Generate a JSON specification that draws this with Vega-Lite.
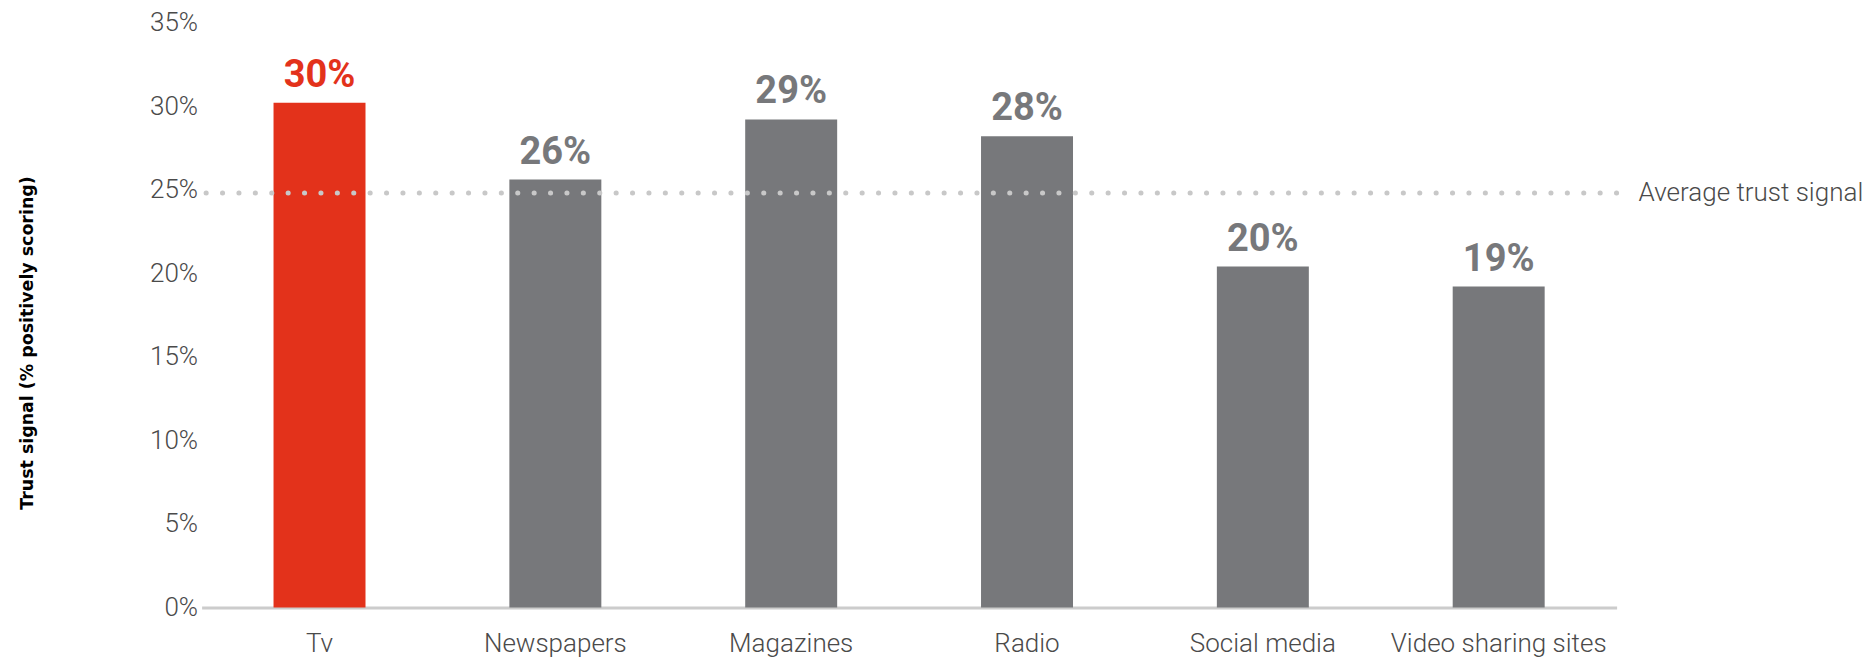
{
  "$schema": "https://vega.github.io/schema/vega-lite/v6.json",
  "width": 1415,
  "height": 585,
  "autosize": {"type": "none"},
  "padding": {"left": 201.6, "top": 22.5, "right": 259.4, "bottom": 49.5},
  "background": "white",
  "config": {"view": {"stroke": null}, "font": "Roboto"},
  "datasets": {
    "media": [
      {"category": "Tv", "value": 30.2, "label": "30%"},
      {"category": "Newspapers", "value": 25.6, "label": "26%"},
      {"category": "Magazines", "value": 29.2, "label": "29%"},
      {"category": "Radio", "value": 28.2, "label": "28%"},
      {"category": "Social media", "value": 20.4, "label": "20%"},
      {"category": "Video sharing sites", "value": 19.2, "label": "19%"}
    ],
    "avg": [{"value": 24.8, "name": "Average trust signal"}]
  },
  "layer": [
    {
      "data": {"name": "media"},
      "mark": {"type": "bar"},
      "encoding": {
        "x": {
          "field": "category", "type": "nominal", "sort": null,
          "scale": {"paddingInner": 0.61, "paddingOuter": 0.305},
          "axis": {
            "title": null, "labelAngle": 0, "ticks": false, "labelLimit": 0,
            "domainColor": "#cccccc", "domainWidth": 3,
            "labelFont": "Roboto", "labelFontWeight": 300, "labelFontSize": 26,
            "labelColor": "#4a4a4a", "labelPadding": 23
          }
        },
        "y": {
          "field": "value", "type": "quantitative",
          "scale": {"domain": [0, 35], "nice": false},
          "axis": {
            "title": "Trust signal (% positively scoring)",
            "values": [0, 5, 10, 15, 20, 25, 30, 35],
            "labelExpr": "datum.value + '%'",
            "grid": false, "domain": false, "ticks": false,
            "labelFont": "Roboto", "labelFontWeight": 300, "labelFontSize": 26,
            "labelColor": "#4a4a4a", "labelPadding": 4,
            "titleFont": "DejaVu Sans", "titleFontWeight": "bold", "titleFontSize": 17.4,
            "titleColor": "#000000", "titleAngle": -90,
            "titleX": -174.6, "titleY": 320,
            "titleAlign": "center", "titleBaseline": "middle"
          }
        },
        "color": {
          "condition": {"test": "datum.category === 'Tv'", "value": "#E3321B"},
          "value": "#77787B"
        }
      }
    },
    {
      "data": {"name": "media"},
      "mark": {"type": "text", "baseline": "alphabetic", "dy": -16, "fontSize": 38, "fontWeight": "bold", "font": "Roboto"},
      "encoding": {
        "x": {"field": "category", "type": "nominal", "sort": null},
        "y": {"field": "value", "type": "quantitative", "title": "Trust signal (% positively scoring)"},
        "text": {"field": "label"},
        "color": {
          "condition": {"test": "datum.category === 'Tv'", "value": "#E3321B"},
          "value": "#77787B"
        }
      }
    },
    {
      "data": {"name": "avg"},
      "mark": {"type": "rule", "color": "#c8c8c8", "strokeWidth": 5, "strokeCap": "round", "strokeDash": [0.1, 16.3]},
      "encoding": {
        "y": {"field": "value", "type": "quantitative", "title": "Trust signal (% positively scoring)"}
      }
    },
    {
      "data": {"name": "avg"},
      "mark": {"type": "text", "align": "left", "baseline": "middle", "dx": 22, "fontSize": 26, "fontWeight": 300, "font": "Roboto", "color": "#4a4a4a"},
      "encoding": {
        "x": {"value": "width"},
        "y": {"field": "value", "type": "quantitative", "title": "Trust signal (% positively scoring)"},
        "text": {"field": "name"}
      }
    }
  ]
}
